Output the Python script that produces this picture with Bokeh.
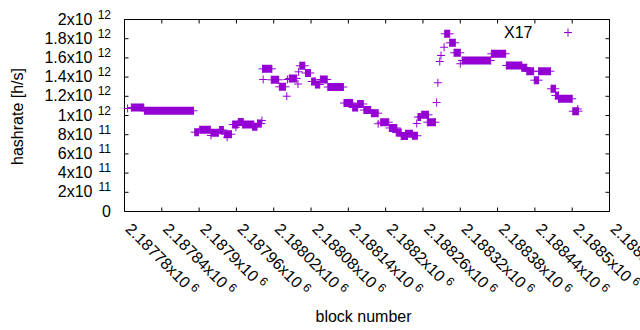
import math
from bokeh.plotting import figure
from bokeh.models import Range1d, Label
from bokeh.embed import file_html
from bokeh.resources import INLINE

# ---------------- data ----------------
# dense runs of consecutive blocks at (nearly) the same hashrate
run_start = [2187791, 2187812, 2187893, 2187901, 2187920, 2187933, 2187941, 2187954,
             2187963, 2187970, 2187986, 2187994, 2188002, 2188016, 2188029, 2188045,
             2188062, 2188071, 2188081, 2188087, 2188095, 2188107, 2188133, 2188147,
             2188155, 2188165, 2188177, 2188192, 2188206, 2188217, 2188225, 2188232,
             2188243, 2188252, 2188258, 2188267, 2188295, 2188303, 2188310, 2188323,
             2188370, 2188394, 2188419, 2188427, 2188439, 2188446, 2188466, 2188473,
             2188478, 2188501]
run_end = [2187811, 2187891, 2187899, 2187918, 2187931, 2187939, 2187952, 2187962,
           2187971, 2187988, 2187993, 2188000, 2188017, 2188028, 2188039, 2188057,
           2188070, 2188079, 2188087, 2188094, 2188106, 2188132, 2188147, 2188155,
           2188164, 2188176, 2188188, 2188205, 2188218, 2188225, 2188235, 2188243,
           2188251, 2188256, 2188269, 2188280, 2188303, 2188312, 2188320, 2188369,
           2188393, 2188419, 2188427, 2188438, 2188446, 2188465, 2188473, 2188478,
           2188500, 2188510]
run_value = [1.083e12, 1.049e12, 8.26e11, 8.51e11, 8.21e11, 8.49e11, 8.05e11, 9.06e11,
             9.32e11, 9.06e11, 8.82e11, 9.17e11, 1.486e12, 1.372e12, 1.299e12, 1.385e12,
             1.518e12, 1.443e12, 1.354e12, 1.323e12, 1.375e12, 1.297e12, 1.130e12, 1.083e12,
             1.120e12, 1.057e12, 1.024e12, 9.30e11, 8.70e11, 8.23e11, 7.86e11, 8.09e11,
             7.89e11, 9.84e11, 1.007e12, 9.30e11, 1.851e12, 1.757e12, 1.653e12, 1.573e12,
             1.643e12, 1.521e12, 1.497e12, 1.461e12, 1.368e12, 1.461e12, 1.278e12, 1.208e12,
             1.174e12, 1.045e12]

# isolated blocks
single_block = [2187785, 2187919, 2187945, 2187959, 2188001, 2188003, 2188041, 2188042,
                2188059, 2188060, 2188188, 2188250, 2188282, 2188284, 2188287, 2188289,
                2188294, 2188320, 2188509]
single_value = [1.073e12, 7.92e11, 7.74e11, 8.78e11, 9.48e11, 1.375e12, 1.201e12, 1.375e12,
                1.328e12, 1.455e12, 9.14e11, 9.17e11, 1.135e12, 1.341e12, 1.5625e12, 1.625e12,
                1.711e12, 1.539e12, 1.068e12]

series_name = "X17"

x_ticks = [2187780, 2187840, 2187900, 2187960, 2188020, 2188080, 2188140,
           2188200, 2188260, 2188320, 2188380, 2188440, 2188500, 2188560]
x_tick_text = ["2.18778x10", "2.18784x10", "2.1879x10", "2.18796x10", "2.18802x10",
               "2.18808x10", "2.18814x10", "2.1882x10", "2.18826x10", "2.18832x10",
               "2.18838x10", "2.18844x10", "2.1885x10", "2.18856x10"]
x_tick_exp = "6"

y_ticks = [0, 2e11, 4e11, 6e11, 8e11, 1e12, 1.2e12, 1.4e12, 1.6e12, 1.8e12, 2e12]
y_tick_text = ["0", "2x10", "4x10", "6x10", "8x10", "1x10", "1.2x10", "1.4x10",
               "1.6x10", "1.8x10", "2x10"]
y_tick_exp = ["", "11", "11", "11", "11", "12", "12", "12", "12", "12", "12"]

x_title = "block number"
y_title = "hashrate [h/s]"

# ---------------- layout / style ----------------
X0, X1 = 2187780, 2188560
Y0, Y1 = 0, 2e12
W, H = 640, 330
FL, FR, FT, FB = 124, 609, 19, 211     # plot box edges in canvas pixels
FW, FH = FR - FL, FB - FT
KX = (X1 - X0) / FW                    # data units per pixel
KY = (Y1 - Y0) / FH
PURPLE = "#9400d3"
FONT = "Liberation Sans"
FPX = 16
FS = f"{FPX}px"
FS_SUP = "12px"
TICK = 4

# the scales span the whole canvas so that all texts stay inside the drawable area
p = figure(width=W, height=H, output_backend="svg", toolbar_location=None,
           x_range=Range1d(X0 - FL * KX, X1 + (W - FR) * KX),
           y_range=Range1d(Y0 - (H - FB) * KY, Y1 + FT * KY),
           min_border=0, min_border_left=0, min_border_right=0,
           min_border_top=0, min_border_bottom=0)
p.axis.visible = False
p.grid.visible = False
p.outline_line_color = None
p.background_fill_color = "white"
p.border_fill_color = "white"

# plot box and tick marks (inward, mirrored on all four sides)
p.quad(left=[X0], right=[X1], bottom=[Y0], top=[Y1], fill_color=None,
       line_color="black", line_width=1)
p.segment(x0=x_ticks, y0=[Y0] * len(x_ticks), x1=x_ticks, y1=[Y0 + TICK * KY] * len(x_ticks),
          line_color="black", line_width=1)
p.segment(x0=x_ticks, y0=[Y1] * len(x_ticks), x1=x_ticks, y1=[Y1 - TICK * KY] * len(x_ticks),
          line_color="black", line_width=1)
p.segment(x0=[X0] * len(y_ticks), y0=y_ticks, x1=[X0 + TICK * KX] * len(y_ticks), y1=y_ticks,
          line_color="black", line_width=1)
p.segment(x0=[X1] * len(y_ticks), y0=y_ticks, x1=[X1 - TICK * KX] * len(y_ticks), y1=y_ticks,
          line_color="black", line_width=1)


def lab(**kw):
    kw.setdefault("text_font", FONT)
    kw.setdefault("text_font_size", FS)
    kw.setdefault("text_color", "black")
    p.add_layout(Label(**kw))


# data marks
cx = [(a + b) / 2 for a, b in zip(run_start, run_end)]
wx = [b - a for a, b in zip(run_start, run_end)]
p.rect(x=cx, y=run_value, width=wx, height=8, height_units="screen",
       fill_color=PURPLE, line_color=None)
p.scatter(x=run_start + run_end + single_block,
          y=run_value + run_value + single_value,
          marker="cross", size=8, line_color=PURPLE, line_width=1)

# legend (gnuplot style: text then sample)
leg_x = X0 + (567.5 - FL) * KX
leg_y = Y1 - (32 - FT) * KY
p.scatter(x=[leg_x], y=[leg_y], marker="cross", size=8, line_color=PURPLE, line_width=1)
lab(x=X0, y=Y1, x_offset=408, y_offset=-13, text=series_name,
    text_align="right", text_baseline="middle")

# y tick labels
for v, t, e in zip(y_ticks, y_tick_text, y_tick_exp):
    if e:
        lab(x=X0, y=v, x_offset=-32, y_offset=0.5, text=t, text_align="right",
            text_baseline="middle")
        lab(x=X0, y=v, x_offset=-13.5, y_offset=5.5, text=e, text_align="right",
            text_baseline="middle", text_font_size=FS_SUP)
    else:
        lab(x=X0, y=v, x_offset=-13.5, y_offset=0.5, text=t, text_align="right",
            text_baseline="middle")

# x tick labels, rotated -45 deg, exponent placed after the mantissa and raised
ADV = {"0": .556, "1": .556, "2": .556, "3": .556, "4": .556, "5": .556, "6": .556,
       "7": .556, "8": .556, "9": .556, ".": .278, "x": .5}
c = math.cos(math.pi / 4)
ax0, ay0 = 4, -14.5
GAP, RAISE = 4, 4
for v, t in zip(x_ticks, x_tick_text):
    lab(x=v, y=Y0, x_offset=ax0, y_offset=ay0, text=t, angle=-math.pi / 4,
        text_align="left", text_baseline="middle")
    along = sum(ADV[ch] for ch in t) * FPX + GAP
    lab(x=v, y=Y0, x_offset=ax0 + (along + RAISE) * c, y_offset=ay0 + (RAISE - along) * c,
        text=x_tick_exp, angle=-math.pi / 4, text_align="left", text_baseline="middle",
        text_font_size=FS_SUP)

# axis titles
lab(x=X0, y=Y0, x_offset=239, y_offset=-105, text=x_title,
    text_align="center", text_baseline="middle")
lab(x=X0, y=Y0, x_offset=-107, y_offset=95, text=y_title, angle=math.pi / 2,
    text_align="center", text_baseline="middle")

open("out.html", "w").write(file_html(p, INLINE))
